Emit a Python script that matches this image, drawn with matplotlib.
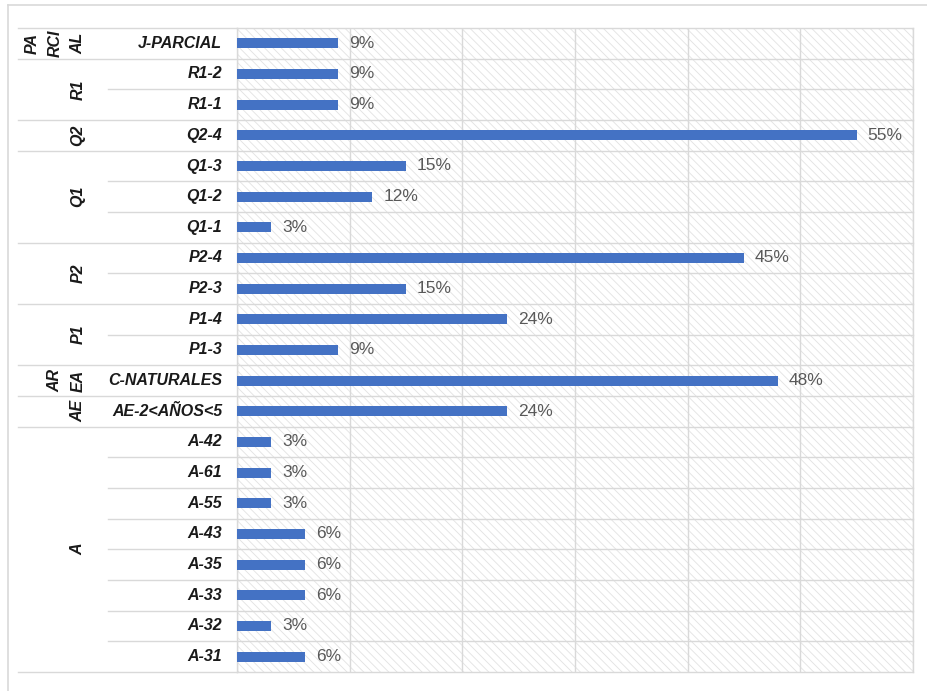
import numpy as np
import matplotlib.pyplot as plt
from matplotlib.lines import Line2D

plt.rcParams["font.family"] = "Liberation Sans"
plt.rcParams["hatch.color"] = "#d6d6d6"
plt.rcParams["hatch.linewidth"] = 0.6

# rows from top to bottom
categories = ["J-PARCIAL", "R1-2", "R1-1", "Q2-4", "Q1-3", "Q1-2", "Q1-1",
              "P2-4", "P2-3", "P1-4", "P1-3", "C-NATURALES", "AE-2<AÑOS<5",
              "A-42", "A-61", "A-55", "A-43", "A-35", "A-33", "A-32", "A-31"]
values = [9, 9, 9, 55, 15, 12, 3, 45, 15, 24, 9, 48, 24,
          3, 3, 3, 6, 6, 6, 3, 6]

# outer category level: wrapped label lines and how many rows each covers
group_labels = [["PA", "RCI", "AL"], ["R1"], ["Q2"], ["Q1"], ["P2"], ["P1"],
                ["AR", "EA"], ["AE"], ["A"]]
group_sizes = [1, 2, 1, 3, 2, 2, 1, 1, 8]

BAR_COLOR = "#4472C4"
GRID = "#d9d9d9"

W, H = 927, 691
fig = plt.figure(figsize=(W / 100, H / 100), dpi=100)
ax = fig.add_axes([237 / W, (H - 672) / H, (913 - 237) / W, (672 - 28) / H])

n = len(categories)
ypos = np.arange(n)
ax.barh(ypos, np.array(values) / 100, height=0.32, color=BAR_COLOR, zorder=3)
ax.set_ylim(n - 0.5, -0.5)
ax.set_xlim(0, 0.6)

for y, v in zip(ypos, values):
    ax.annotate(f"{v}%", (v / 100, y), xytext=(8, 0), textcoords="offset points",
                va="center", ha="left", fontsize=12.5, color="#595959")

ax.patch.set_hatch("\\\\\\\\")
ax.patch.set_edgecolor("#e2e2e2")
ax.set_xticks(np.arange(0, 0.61, 0.1))
ax.xaxis.grid(True, color=GRID, linewidth=1)
ax.set_axisbelow(True)
ax.tick_params(length=0, labelbottom=False, labelleft=False)
ax.set_yticks([])
for s in ax.spines.values():
    s.set_color(GRID)
    s.set_linewidth(1)

px = lambda x: (x - 237) / (913 - 237)  # figure pixel x -> axes fraction
tr = ax.get_yaxis_transform()

# inner category labels
for y, c in zip(ypos, categories):
    ax.text(px(222), y, c, transform=tr, ha="right", va="center",
            fontsize=11.5, fontweight="bold", fontstyle="italic", color="#1a1a1a")

# row separators: full width at group boundaries, shorter inside groups
bounds = np.cumsum([0] + group_sizes)
for k in range(1, n):
    x0 = px(18) if k in bounds else px(108)
    ax.add_line(Line2D([x0, 1], [k - 0.5, k - 0.5], transform=tr, color=GRID,
                       linewidth=1, clip_on=False, zorder=2))
for k in (0, n):
    ax.add_line(Line2D([px(18), 0], [k - 0.5, k - 0.5], transform=tr, color=GRID,
                       linewidth=1, clip_on=False))

# outer category labels, rotated
for start, size, lines in zip(bounds[:-1], group_sizes, group_labels):
    yc = start + (size - 1) / 2
    for j, t in enumerate(reversed(lines)):
        ax.text(px(78 - 23 * j), yc, t, transform=tr, rotation=90, ha="center",
                va="center", fontsize=11.5, fontweight="bold",
                fontstyle="italic", color="#1a1a1a")

# chart frame
fig.add_artist(Line2D([8 / W, 1], [1 - 5 / H, 1 - 5 / H], color=GRID, linewidth=1.2))
fig.add_artist(Line2D([8 / W, 8 / W], [0, 1 - 5 / H], color=GRID, linewidth=1.2))

fig.savefig("out.png", dpi=100)
